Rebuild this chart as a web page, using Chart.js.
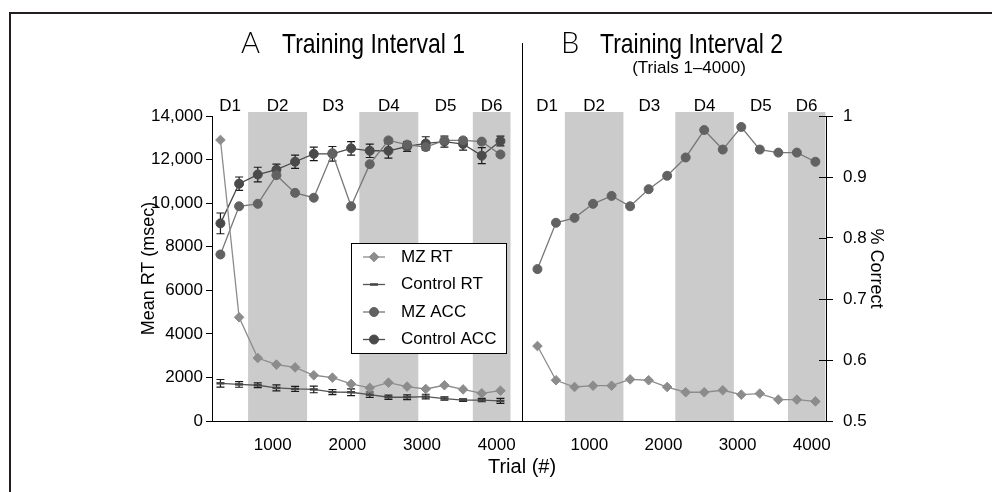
<!DOCTYPE html>
<html>
<head>
<meta charset="utf-8">
<script src="https://cdn.jsdelivr.net/npm/chart.js@4.4.1/dist/chart.umd.min.js"></script>
<style>
    html, body { margin: 0; padding: 0; background: #fff; }
    #wrap { position: relative; width: 992px; height: 492px; overflow: hidden; }
    #frame { position: absolute; left: 9px; top: 12px; width: 1000px; height: 500px;
             border-top: 2px solid #231f20; border-left: 2px solid #231f20; }
    canvas { position: absolute; left: 0; top: 0; }
</style>
</head>
<body>
<div id="wrap">
    <div id="frame"></div>
    <canvas id="panelA" width="992" height="492"></canvas>
    <canvas id="panelB" width="992" height="492"></canvas>
</div>
<script>
const SANS = "'Liberation Sans', Arial, Helvetica, sans-serif";

// trial blocks (x values) and day boundaries
const trials = [300, 550, 800, 1050, 1300, 1550, 1800, 2050, 2300, 2550, 2800, 3050, 3300, 3550, 3800, 4050];
const dayLabels = ['D1', 'D2', 'D3', 'D4', 'D5', 'D6'];
const dayEdges = [190, 670, 1460, 2160, 2950, 3680, 4185];
const shadedDays = ['D2', 'D4', 'D6'];

// tick labels
const trialTicks = [1000, 2000, 3000, 4000];
const rtTicks = [0, 2000, 4000, 6000, 8000, 10000, 12000, 14000];
const accTicks = [0.5, 0.6, 0.7, 0.8, 0.9, 1];

// A: Training Interval 1
const mzRtA = [12900, 4760, 2890, 2590, 2460, 2100, 1990, 1700, 1520, 1760, 1580, 1470, 1640, 1450, 1270, 1390];
const ctlRtA = [1730, 1680, 1640, 1520, 1470, 1450, 1330, 1320, 1210, 1090, 1090, 1120, 1030, 960, 960, 920];
const ctlRtErrA = [176, 130, 107, 138, 115, 153, 115, 153, 122, 100, 107, 107, 77, 61, 77, 115];
const mzAccA = [0.773, 0.852, 0.856, 0.903, 0.874, 0.866, 0.939, 0.852, 0.921, 0.960, 0.953, 0.949, 0.960, 0.960, 0.958, 0.937];
const ctlAccA = [0.824, 0.889, 0.904, 0.912, 0.925, 0.938, 0.938, 0.947, 0.943, 0.943, 0.950, 0.955, 0.958, 0.954, 0.935, 0.959];
const ctlAccErrA = [0.017, 0.011, 0.012, 0.009, 0.011, 0.011, 0.012, 0.011, 0.011, 0.012, 0.008, 0.011, 0.009, 0.010, 0.013, 0.008];

// B: Training Interval 2
const mzRtB = [3440, 1870, 1560, 1620, 1620, 1910, 1870, 1560, 1320, 1320, 1410, 1210, 1260, 980, 980, 900];
const mzAccB = [0.749, 0.825, 0.833, 0.856, 0.869, 0.852, 0.880, 0.902, 0.932, 0.977, 0.945, 0.982, 0.945, 0.940, 0.940, 0.925];

Chart.defaults.font.family = SANS;
Chart.defaults.color = '#000';

const styles = {
    mzRt: { borderColor: '#8c8c8c', pointStyle: 'rectRot', pointRadius: 4.8,
            pointBackgroundColor: '#8c8c8c', pointBorderColor: '#8c8c8c', pointBorderWidth: 1 },
    ctlRt: { borderColor: '#555', pointStyle: 'line', pointRadius: 4,
             pointBackgroundColor: '#444', pointBorderColor: '#444', pointBorderWidth: 2.5 },
    mzAcc: { borderColor: '#777', pointStyle: 'circle', pointRadius: 4.5,
             pointBackgroundColor: '#626262', pointBorderColor: '#626262', pointBorderWidth: 1 },
    ctlAcc: { borderColor: '#4a4a4a', pointStyle: 'circle', pointRadius: 4.5,
              pointBackgroundColor: '#4a4a4a', pointBorderColor: '#4a4a4a', pointBorderWidth: 1 }
};

function series(label, values, axis, style, errors) {
    return Object.assign({
        label: label,
        data: trials.map((t, i) => ({ x: t, y: values[i] })),
        yAxisID: axis,
        borderWidth: 1.3,
        tension: 0,
        fill: false,
        errors: errors || null
    }, style);
}

function fixedTicks(list) {
    return scale => { scale.ticks = list.map(v => ({ value: v })); };
}

function xAxis(min, max) {
    return {
        type: 'linear', min: min, max: max,
        afterBuildTicks: fixedTicks(trialTicks),
        afterFit: s => { s.height = 30; },
        grid: { display: false },
        border: { display: true, color: '#000', width: 1 },
        ticks: { color: '#000', font: { size: 17 }, padding: 6, maxRotation: 0, autoSkip: false,
                 callback: v => String(v) }
    };
}

// condensed title text: the narrow face is not installed, so squeeze the regular one
function narrowText(ctx, text, x, y, size) {
    ctx.save();
    ctx.font = size + 'px ' + SANS;
    ctx.textAlign = 'left';
    ctx.textBaseline = 'alphabetic';
    ctx.scale(0.82, 1);
    ctx.fillText(text, x / 0.82, y);
    ctx.restore();
}

// grey day bands, day labels and error bars
const decor = {
    id: 'decor',
    beforeDraw(chart) {
        const { ctx, chartArea: a, scales: { x } } = chart;
        ctx.save();
        ctx.fillStyle = '#cbcbcb';
        dayLabels.forEach((d, i) => {
            if (!shadedDays.includes(d)) return;
            const x0 = x.getPixelForValue(dayEdges[i]);
            const x1 = x.getPixelForValue(dayEdges[i + 1]);
            ctx.fillRect(x0, a.top - 4, x1 - x0, a.bottom - a.top + 4);
        });
        ctx.fillStyle = '#000';
        ctx.font = '17px ' + SANS;
        ctx.textAlign = 'center';
        ctx.textBaseline = 'middle';
        dayLabels.forEach((d, i) => {
            const xc = x.getPixelForValue((dayEdges[i] + dayEdges[i + 1]) / 2);
            ctx.fillText(d, xc, a.top - 10);
        });
        ctx.restore();
    },
    beforeDatasetsDraw(chart) {
        const ctx = chart.ctx;
        ctx.save();
        ctx.strokeStyle = '#1a1a1a';
        ctx.lineWidth = 1.2;
        chart.data.datasets.forEach((ds, di) => {
            if (!ds.errors) return;
            const ys = chart.scales[ds.yAxisID];
            chart.getDatasetMeta(di).data.forEach((pt, i) => {
                const v = ds.data[i].y, e = ds.errors[i];
                const y0 = ys.getPixelForValue(v + e), y1 = ys.getPixelForValue(v - e);
                ctx.beginPath();
                ctx.moveTo(pt.x, y0); ctx.lineTo(pt.x, y1);
                ctx.moveTo(pt.x - 4, y0); ctx.lineTo(pt.x + 4, y0);
                ctx.moveTo(pt.x - 4, y1); ctx.lineTo(pt.x + 4, y1);
                ctx.stroke();
            });
        });
        ctx.restore();
    }
};

function drawMarker(ctx, ds, x, y) {
    ctx.fillStyle = ds.pointBackgroundColor;
    ctx.strokeStyle = ds.pointBorderColor;
    ctx.lineWidth = ds.pointBorderWidth;
    Chart.helpers.drawPoint(ctx, { pointStyle: ds.pointStyle, radius: ds.pointRadius,
        borderWidth: ds.pointBorderWidth, rotation: 0 }, x, y);
}

function drawLegend(chart, box) {
    const ctx = chart.ctx;
    ctx.save();
    ctx.fillStyle = '#fff';
    ctx.fillRect(box.x, box.y, box.w, box.h);
    ctx.strokeStyle = '#000';
    ctx.lineWidth = 1;
    ctx.strokeRect(box.x + 0.5, box.y + 0.5, box.w, box.h);
    chart.data.datasets.forEach((ds, i) => {
        const y = box.y + 14 + i * 27.5;
        ctx.strokeStyle = ds.borderColor;
        ctx.lineWidth = ds.borderWidth;
        ctx.beginPath();
        ctx.moveTo(box.x + 12, y); ctx.lineTo(box.x + 34, y);
        ctx.stroke();
        drawMarker(ctx, ds, box.x + 23, y);
        ctx.fillStyle = '#000';
        ctx.font = '17px ' + SANS;
        ctx.textAlign = 'left';
        ctx.textBaseline = 'middle';
        ctx.fillText(ds.label, box.x + 50, y);
    });
    ctx.restore();
}

const panelAExtras = {
    id: 'panelAExtras',
    afterDraw(chart) {
        const { ctx, chartArea: a } = chart;
        ctx.save();
        // divider between panels
        ctx.strokeStyle = '#000';
        ctx.lineWidth = 1;
        ctx.beginPath();
        ctx.moveTo(a.right + 0.5, 43); ctx.lineTo(a.right + 0.5, a.bottom);
        ctx.stroke();
        ctx.fillStyle = '#000';
        ctx.textBaseline = 'alphabetic';
        ctx.textAlign = 'left';
        ctx.font = '300 29px Lato, ' + SANS;
        ctx.fillText('A', 241, 53);
        narrowText(ctx, 'Training Interval 1', 282, 53, 28);
        ctx.textAlign = 'center';
        ctx.textBaseline = 'middle';
        ctx.font = '20px ' + SANS;
        ctx.fillText('Trial (#)', a.right, 467);
        ctx.restore();
        drawLegend(chart, { x: 351, y: 243, w: 155, h: 110 });
    }
};

const panelBExtras = {
    id: 'panelBExtras',
    afterDraw(chart) {
        const { ctx, chartArea: a, scales: { acc } } = chart;
        ctx.save();
        // inner half of the cross ticks on the right axis
        ctx.strokeStyle = '#000';
        ctx.lineWidth = 1;
        accTicks.forEach(v => {
            const y = Math.round(acc.getPixelForValue(v)) + 0.5;
            ctx.beginPath();
            ctx.moveTo(a.right - 7, y); ctx.lineTo(a.right, y);
            ctx.stroke();
        });
        ctx.fillStyle = '#000';
        ctx.textBaseline = 'alphabetic';
        ctx.textAlign = 'left';
        ctx.font = '300 29px Lato, ' + SANS;
        ctx.fillText('B', 561, 53);
        narrowText(ctx, 'Training Interval 2', 600, 53, 28);
        ctx.textAlign = 'center';
        ctx.textBaseline = 'middle';
        ctx.font = '17px ' + SANS;
        ctx.fillText('(Trials 1\u20134000)', 689, 68);
        ctx.restore();
    }
};

const common = {
    responsive: false,
    animation: false,
    events: [],
    plugins: { legend: { display: false }, tooltip: { enabled: false } }
};

// Panel A
new Chart(document.getElementById('panelA'), {
    type: 'line',
    data: {
        datasets: [
            series('MZ RT', mzRtA, 'rt', styles.mzRt),
            series('Control RT', ctlRtA, 'rt', styles.ctlRt, ctlRtErrA),
            series('MZ ACC', mzAccA, 'acc', styles.mzAcc),
            series('Control ACC', ctlAccA, 'acc', styles.ctlAcc, ctlAccErrA)
        ]
    },
    options: Object.assign({}, common, {
        layout: { padding: { left: 126, right: 470, top: 116, bottom: 41 } },
        scales: {
            x: xAxis(187, 4339),
            rt: {
                type: 'linear', position: 'left', min: 0, max: 14000,
                afterBuildTicks: fixedTicks(rtTicks),
                afterFit: s => { s.width = 86; },
                grid: { drawOnChartArea: false, tickLength: 6, color: '#000', lineWidth: 1 },
                border: { display: true, color: '#000', width: 1 },
                ticks: {
                    color: '#000', font: { size: 17 }, padding: 3,
                    callback: v => v >= 10000 ? v.toLocaleString('en-US') : String(v)
                },
                title: { display: true, text: 'Mean RT (msec)', color: '#000',
                         font: { size: 18 }, padding: { top: 12, bottom: 0 } }
            },
            acc: { type: 'linear', position: 'right', min: 0.5, max: 1, display: false }
        }
    }),
    plugins: [decor, panelAExtras]
});

// Panel B
new Chart(document.getElementById('panelB'), {
    type: 'line',
    data: {
        datasets: [
            series('MZ RT', mzRtB, 'rt', styles.mzRt),
            series('MZ ACC', mzAccB, 'acc', styles.mzAcc)
        ]
    },
    options: Object.assign({}, common, {
        layout: { padding: { left: 523, right: 100, top: 116, bottom: 41 } },
        scales: {
            x: xAxis(105, 4193),
            rt: { type: 'linear', position: 'left', min: 0, max: 14000, display: false },
            acc: {
                type: 'linear', position: 'right', min: 0.5, max: 1,
                afterBuildTicks: fixedTicks(accTicks),
                afterFit: s => { s.width = 66; },
                grid: { drawOnChartArea: false, tickLength: 7, color: '#000', lineWidth: 1 },
                border: { display: true, color: '#000', width: 1 },
                ticks: { color: '#000', font: { size: 17 }, padding: 10,
                         callback: v => String(Math.round(v * 10) / 10) },
                title: { display: true, text: '% Correct', color: '#000',
                         font: { size: 18 }, padding: { top: 5, bottom: 0 } }
            }
        }
    }),
    plugins: [decor, panelBExtras]
});
</script>
</body>
</html>
